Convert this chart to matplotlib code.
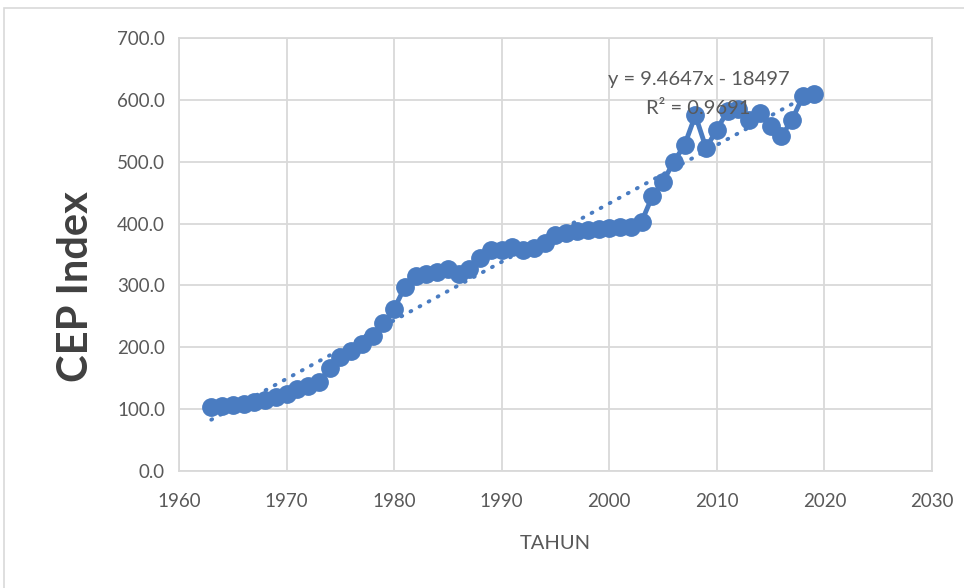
import matplotlib
matplotlib.use("Agg")
import matplotlib.pyplot as plt
import numpy as np
from matplotlib.patches import Rectangle

years = list(range(1963, 2020))
cep = [104, 105, 106, 109, 111, 115, 120, 125, 132, 138, 144, 166, 184, 194, 205, 218, 239, 262,
       298, 315, 318, 322, 327, 319, 326, 344, 357, 358, 362, 358, 360, 369, 381, 384, 388, 390,
       391, 393, 394, 395, 403, 444, 468, 500, 527, 575, 522, 552, 582, 585, 567, 578, 557, 541,
       568, 606, 610]
x_ticks = [1960, 1970, 1980, 1990, 2000, 2010, 2020, 2030]
y_ticks = [0, 100, 200, 300, 400, 500, 600, 700]
eq_text = "y = 9.4647x - 18497"
r2_text = "R² = 0.9691"

blue = "#4a7cc1"
grid_c = "#d9d9d9"
txt_c = "#595959"

plt.rcParams['font.family'] = ['Lato', 'DejaVu Sans']

fig = plt.figure(figsize=(9.64, 5.88), dpi=100)
ax = fig.add_axes([179/964, 1-471/588, (932-179)/964, (471-38)/588])

x = np.array(years, dtype=float)
yv = np.array(cep, dtype=float)
coef = np.polyfit(x, yv, 1)
ax.plot(x, np.polyval(coef, x), linestyle=(0, (0.25, 2.4)), color=blue, lw=2.8, zorder=2,
        dash_capstyle='round')
ax.plot(x, yv, color=blue, lw=3.5, marker='o', markersize=12.5, zorder=3)

ax.set_xlim(1960, 2030)
ax.set_ylim(0, 700)
ax.set_xticks(x_ticks)
ax.set_yticks(y_ticks)
ax.set_yticklabels([f"{v:.1f}" for v in y_ticks])
ax.tick_params(length=0, labelsize=13.5, colors=txt_c, pad=10)
ax.tick_params(axis='x', pad=16)
ax.grid(True, color=grid_c, lw=1.3)
ax.set_axisbelow(True)
for s in ax.spines.values():
    s.set_color(grid_c)
    s.set_linewidth(1.3)

ax.set_xlabel("TAHUN", fontsize=14.5, color=txt_c, labelpad=18)
ax.set_ylabel("CEP Index", fontsize=30, fontweight='bold', color="#404040")
ax.yaxis.set_label_coords(-0.112, 0.425)

ax.text(2008.3, 633, eq_text, fontsize=14.5, color=txt_c, ha='center', va='center', zorder=4)
ax.text(2008.3, 586, r2_text, fontsize=14.5, color=txt_c, ha='center', va='center', zorder=4)

fig.patches.append(Rectangle((4/964, -0.1), 2.0, 1.1 - 8/588, transform=fig.transFigure,
                             fill=False, edgecolor="#d9d9d9", lw=1.2))

fig.savefig("out.png", dpi=100, facecolor='white')
